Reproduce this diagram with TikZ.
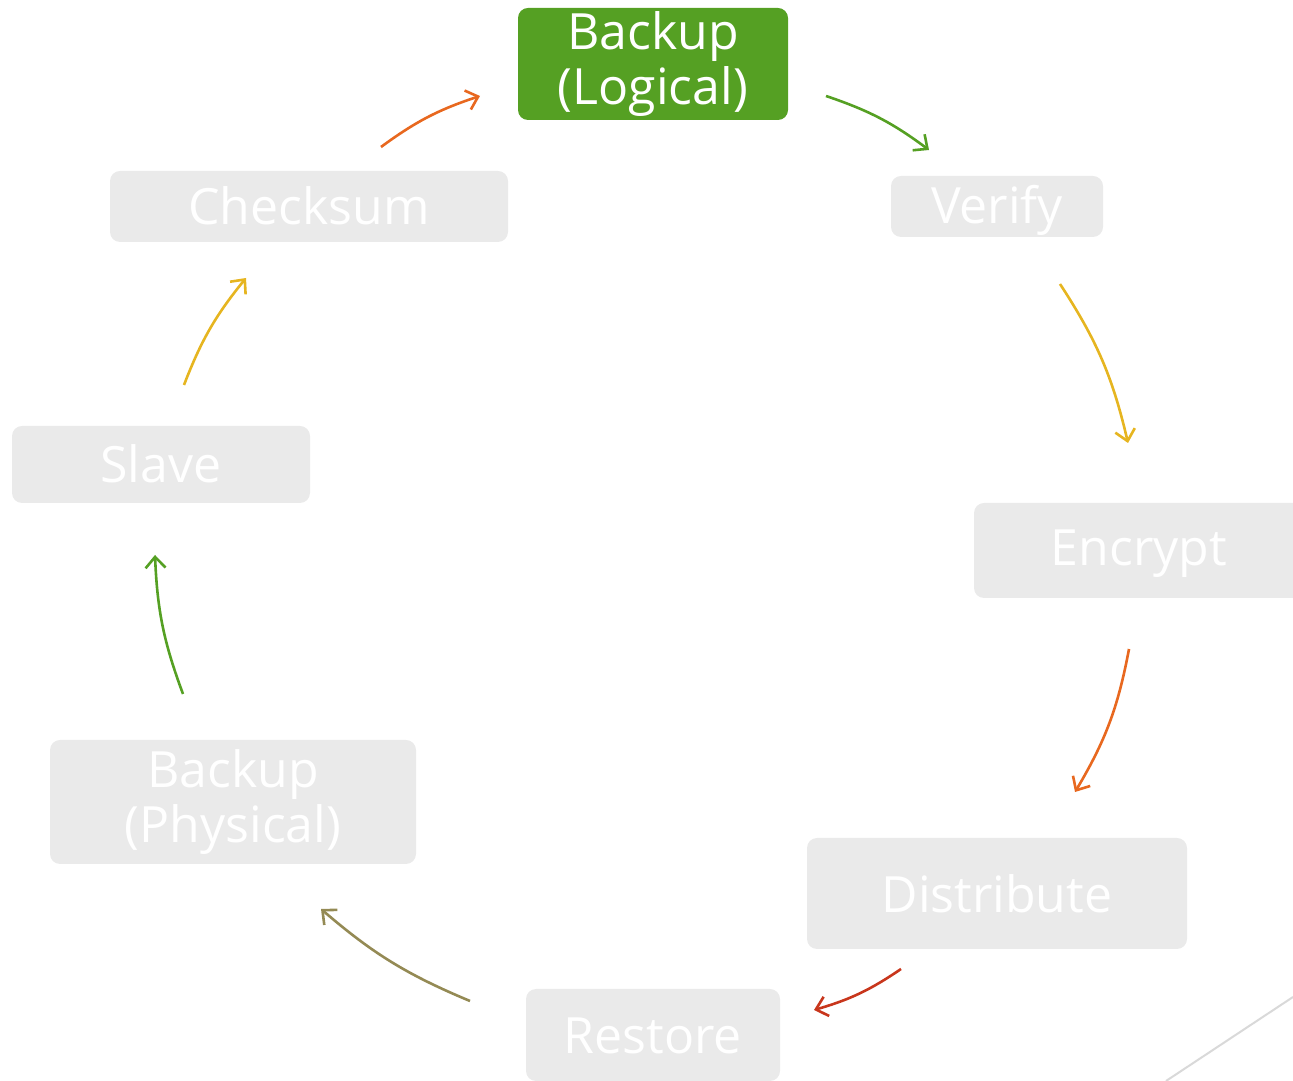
\documentclass[tikz,border=0pt]{standalone}
\usepackage{fontspec}
\setmainfont{Open Sans}
\usetikzlibrary{arrows.meta}
\definecolor{boxgray}{HTML}{EAEAEA}
\definecolor{leafgreen}{HTML}{55A023}
\definecolor{flame}{HTML}{E8681F}
\definecolor{gold}{HTML}{E6B520}
\definecolor{brick}{HTML}{C8361C}
\definecolor{olive}{HTML}{948A54}
\definecolor{edgegray}{HTML}{D9D9D9}
% lower the ink of a label without changing how the node centres it
\newcommand\dropby[2]{\raisebox{-#1}[\height][\depth]{#2}}
\newcommand\twolines[2]{\begin{tabular}{@{}c@{}}#1\\#2\end{tabular}}
\tikzset{
  stage/.style={fill=boxgray, rounded corners=10pt, text=white, inner sep=0pt,
    align=center, font=\fontsize{50}{55}\selectfont},
  current/.style={stage, fill=leafgreen},
  flow/.style={line width=2.6pt, -{Straight Barb[length=11pt,width=20pt,line width=2.6pt]}},
}
\begin{document}
\begin{tikzpicture}[x=1pt,y=1pt]
\useasboundingbox (0,0) rectangle (1293,1081);
\clip (0,0) rectangle (1293,1081);

% the cycle of stages
\node[current, minimum width=270pt, minimum height=112pt] (logical) at (653,1017)
  {\dropby{2pt}{\twolines{Backup}{(Logical)}}};
\node[stage, minimum width=212pt, minimum height=61pt] (verify) at (997,874.5) {\dropby{4pt}{Verify}};
\node[stage, minimum width=330pt, minimum height=95pt] (encrypt) at (1139,530.5) {\dropby{3pt}{Encrypt}};
\node[stage, minimum width=380pt, minimum height=111pt] (distribute) at (997,187.5) {Distribute};
\node[stage, minimum width=254pt, minimum height=92pt] (restore) at (653,46) {\dropby{1pt}{Restore}};
\node[stage, minimum width=366pt, minimum height=124pt] (physical) at (233,279)
  {\dropby{2pt}{\twolines{Backup}{(Physical)}}};
\node[stage, minimum width=298pt, minimum height=77pt] (slave) at (161,616.5) {\dropby{-1pt}{Slave}};
\node[stage, minimum width=398pt, minimum height=71pt] (checksum) at (309,874.5) {\dropby{-1pt}{Checksum}};

% arrow end points
\coordinate (a1s) at (381,934);  \coordinate (a1e) at (480,985);
\coordinate (a2s) at (826,985);  \coordinate (a2e) at (929,931);
\coordinate (a3s) at (1060,797); \coordinate (a3e) at (1128,638);
\coordinate (a4s) at (1129,432); \coordinate (a4e) at (1075,289);
\coordinate (a5s) at (901,112);  \coordinate (a5e) at (814,71);
\coordinate (a6s) at (470,80);   \coordinate (a6e) at (321,172);
\coordinate (a7s) at (183,387);  \coordinate (a7e) at (155,526);
\coordinate (a8s) at (184,696);  \coordinate (a8e) at (246,803);

% connectors
\draw[flow, flame]      (a1s) to[bend left=9] (a1e);
\draw[flow, leafgreen]  (a2s) to[bend left=9] (a2e);
\draw[flow, gold]       (a3s) to[bend left=10] (a3e);
\draw[flow, flame]      (a4s) to[bend left=10] (a4e);
\draw[flow, brick]      (a5s) to[bend left=9] (a5e);
\draw[flow, olive]      (a6s) to[bend left=9] (a6e);
\draw[flow, leafgreen]  (a7s) to[bend left=9] (a7e);
\draw[flow, gold]       (a8s) to[bend left=9] (a8e);

% corner rule
\coordinate (r1) at (1166,0); \coordinate (r2) at (1293,84);
\draw[edgegray, line width=2pt] (r1) -- (r2);
\end{tikzpicture}
\end{document}
